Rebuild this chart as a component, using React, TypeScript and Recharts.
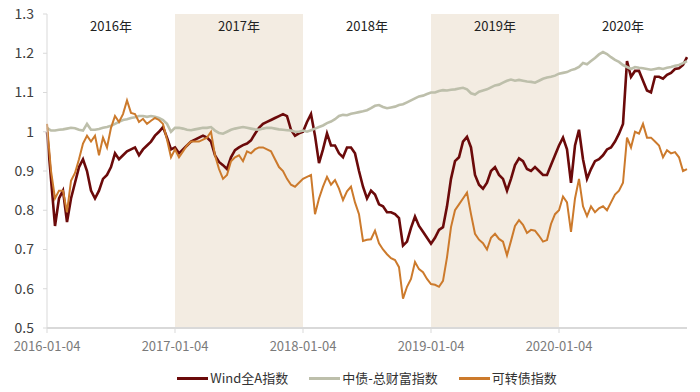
import React from "react";
import {
  Line,
  LineChart,
  ReferenceArea,
  XAxis,
  YAxis,
} from "recharts";

// one sample every ~11 days, 32 per year, 2016-01-04 .. 2020-12-31
const POINTS_PER_YEAR = 32;

const TICK_LABELS = ["2016-01-04", "2017-01-04", "2018-01-04", "2019-01-04", "2020-01-04"];
const YEAR_LABELS = ["2016年", "2017年", "2018年", "2019年", "2020年"];
const SHADED_YEARS = [1, 3];
const Y_TICKS = [0.5, 0.6, 0.7, 0.8, 0.9, 1.0, 1.1, 1.2, 1.3];

const WIND_A = [
  1.0, 0.88, 0.76, 0.83, 0.85, 0.77, 0.83, 0.87, 0.91, 0.93, 0.9, 0.85, 0.83, 0.85, 0.88, 0.89,
  0.91, 0.945, 0.93, 0.94, 0.95, 0.955, 0.96, 0.94, 0.955, 0.965, 0.975, 0.99, 1.0, 1.012, 0.985, 0.955,
  0.96, 0.945, 0.955, 0.965, 0.975, 0.98, 0.985, 0.99, 0.985, 0.975, 0.94, 0.923, 0.915, 0.905, 0.935, 0.953,
  0.96, 0.966, 0.97, 0.978, 0.995, 1.01, 1.02, 1.025, 1.03, 1.035, 1.04, 1.045, 1.04, 1.005, 0.99, 0.996,
  1.0, 1.025, 1.045, 0.99, 0.92, 0.955, 0.996, 0.965, 0.965, 0.945, 0.935, 0.96, 0.96, 0.945, 0.9, 0.86,
  0.83, 0.85, 0.84, 0.815, 0.81, 0.795, 0.795, 0.79, 0.78, 0.71, 0.72, 0.755, 0.784, 0.76, 0.745, 0.73,
  0.715, 0.73, 0.75, 0.757, 0.81, 0.88, 0.925, 0.935, 0.975, 0.987, 0.96, 0.89, 0.865, 0.855, 0.87, 0.9,
  0.91, 0.89, 0.88, 0.85, 0.88, 0.915, 0.932, 0.925, 0.905, 0.9, 0.91, 0.9, 0.89, 0.89, 0.915, 0.94,
  0.965, 0.985, 0.955, 0.87, 0.965, 1.005, 0.93, 0.88, 0.905, 0.925, 0.93, 0.94, 0.955, 0.96, 0.975, 0.995,
  1.02, 1.18, 1.14, 1.155, 1.155, 1.13, 1.105, 1.1, 1.14, 1.14, 1.135, 1.145, 1.15, 1.16, 1.162, 1.17,
  1.19,
];

const CHINA_BOND = [
  1.01, 1.003, 1.003, 1.005, 1.006, 1.008, 1.01, 1.009, 1.005, 1.003, 1.02, 1.005, 1.005, 1.007, 1.01, 1.012,
  1.015, 1.02, 1.025, 1.03, 1.032, 1.035, 1.037, 1.04, 1.04, 1.038, 1.04, 1.038, 1.035, 1.03, 1.02, 1.0,
  1.01, 1.01, 1.008, 1.005, 1.004, 1.006, 1.008, 1.01, 1.01, 1.012, 1.003, 0.997, 0.995, 1.0, 1.005, 1.008,
  1.01, 1.012, 1.01, 1.008, 1.006, 1.005, 1.008, 1.01, 1.01, 1.008, 1.006, 1.005, 1.004, 1.003, 1.0, 1.0,
  1.003, 1.0, 1.004, 1.008, 1.012, 1.016, 1.022, 1.026, 1.032, 1.04, 1.043, 1.042, 1.046, 1.048, 1.05, 1.052,
  1.055, 1.06, 1.066, 1.068, 1.063, 1.06, 1.062, 1.064, 1.068, 1.07, 1.075, 1.08, 1.085, 1.09, 1.092, 1.096,
  1.1, 1.1, 1.104, 1.106, 1.105, 1.107, 1.108, 1.11, 1.112, 1.108, 1.098, 1.095, 1.102, 1.105, 1.108, 1.113,
  1.118, 1.12, 1.125, 1.13, 1.133, 1.13, 1.132, 1.13, 1.128, 1.127, 1.125, 1.13, 1.135, 1.138, 1.14, 1.143,
  1.148, 1.15, 1.152, 1.157, 1.16, 1.165, 1.175, 1.172, 1.18, 1.188, 1.197, 1.203, 1.198, 1.19, 1.183, 1.178,
  1.17, 1.165, 1.16, 1.165, 1.163, 1.162, 1.16, 1.158, 1.16, 1.162, 1.16, 1.163, 1.165, 1.168, 1.17, 1.175,
  1.18,
];

const CONVERTIBLE = [
  1.02, 0.9, 0.83, 0.85, 0.85, 0.795, 0.875, 0.895, 0.93, 0.97, 0.99, 0.975, 0.99, 0.94, 0.985, 0.96,
  1.01, 1.04, 1.025, 1.045, 1.08, 1.048, 1.045, 1.025, 1.033, 1.02, 1.028, 1.035, 1.03, 1.02, 0.98, 0.935,
  0.955, 0.935, 0.95, 0.965, 0.975, 0.975, 0.975, 0.98, 0.985, 1.0, 0.94, 0.905, 0.88, 0.89, 0.925, 0.935,
  0.94, 0.925, 0.95, 0.945, 0.955, 0.96, 0.96, 0.955, 0.95, 0.93, 0.91, 0.9, 0.88, 0.865, 0.86, 0.87,
  0.88, 0.885, 0.89, 0.79, 0.83, 0.86, 0.885, 0.865, 0.877, 0.855, 0.826, 0.848, 0.86, 0.82, 0.79, 0.722,
  0.725, 0.726, 0.748, 0.716, 0.7, 0.688, 0.678, 0.673, 0.655, 0.575, 0.605, 0.625, 0.668, 0.65, 0.642, 0.625,
  0.612, 0.61, 0.605, 0.62, 0.68, 0.757, 0.8, 0.815, 0.83, 0.845, 0.79, 0.74, 0.725, 0.716, 0.7, 0.73,
  0.74, 0.727, 0.72, 0.685, 0.722, 0.76, 0.775, 0.763, 0.742, 0.75, 0.748, 0.735, 0.72, 0.724, 0.765, 0.79,
  0.8, 0.835, 0.82, 0.745, 0.83, 0.88, 0.81, 0.785, 0.81, 0.795, 0.805, 0.81, 0.8, 0.82, 0.84, 0.85,
  0.87, 0.985, 0.96, 1.0, 0.995, 1.02, 0.985, 0.985, 0.975, 0.965, 0.935, 0.953, 0.945, 0.948, 0.935, 0.9,
  0.905,
];

const SERIES = [
  { key: "wind", name: "Wind全A指数", values: WIND_A, color: "#6b0a0a", width: 2.6 },
  { key: "bond", name: "中债-总财富指数", values: CHINA_BOND, color: "#bdbfab", width: 2.6 },
  { key: "cb", name: "可转债指数", values: CONVERTIBLE, color: "#cc7a2c", width: 2 },
];

const data = WIND_A.map((_, i) => ({
  i,
  wind: WIND_A[i],
  bond: CHINA_BOND[i],
  cb: CONVERTIBLE[i],
}));

const FONT = '"Noto Sans CJK SC", "Noto Sans", sans-serif';

export default function App() {
  const lastIndex = data.length - 1;
  return (
    <div style={{ position: "absolute", left: 0, top: 0, width: 700, height: 392, fontFamily: FONT, background: "#fff" }}>
      <LineChart width={700} height={392} data={data} margin={{ top: 14, right: 13, bottom: 34, left: 0 }}>
        {YEAR_LABELS.map((label, y) => (
          <ReferenceArea
            key={label}
            x1={y * POINTS_PER_YEAR}
            x2={Math.min((y + 1) * POINTS_PER_YEAR, lastIndex)}
            y1={0.5}
            y2={1.3}
            fill={SHADED_YEARS.includes(y) ? "#f3ece2" : "none"}
            fillOpacity={1}
            stroke="none"
            label={{ value: label, position: "insideTop", offset: 8, fill: "#222", fontSize: 13 }}
          />
        ))}
        <XAxis
          dataKey="i"
          type="number"
          domain={[0, lastIndex]}
          ticks={TICK_LABELS.map((_, k) => k * POINTS_PER_YEAR)}
          tickFormatter={(v) => TICK_LABELS[Math.round(v / POINTS_PER_YEAR)] ?? ""}
          axisLine={{ stroke: "#d9d9d9", strokeWidth: 2 }}
          tickLine={{ stroke: "#d9d9d9" }}
          tickSize={5}
          tickMargin={9}
          tick={{ fill: "#7a7a7a", fontSize: 13 }}
          height={30}
        />
        <YAxis
          type="number"
          domain={[0.5, 1.3]}
          ticks={Y_TICKS}
          tickFormatter={(v) => String(Number(v.toFixed(1)))}
          axisLine={{ stroke: "#d9d9d9" }}
          tickLine={{ stroke: "#d9d9d9" }}
          tickSize={4}
          tickMargin={9}
          tick={{ fill: "#404040", fontSize: 14 }}
          width={47}
        />
        {SERIES.map((s) => (
          <Line
            key={s.key}
            dataKey={s.key}
            name={s.name}
            type="linear"
            stroke={s.color}
            strokeWidth={s.width}
            dot={false}
            isAnimationActive={false}
          />
        ))}
      </LineChart>
      <div
        style={{
          position: "absolute",
          left: 47,
          width: 640,
          top: 369,
          display: "flex",
          justifyContent: "center",
          gap: 21,
          fontSize: 13,
          color: "#333",
          lineHeight: "18px",
        }}
      >
        {SERIES.map((s) => (
          <div key={s.key} style={{ display: "flex", alignItems: "center" }}>
            <span style={{ display: "inline-block", width: 31, height: 3, background: s.color, marginRight: 2 }} />
            <span>{s.name}</span>
          </div>
        ))}
      </div>
    </div>
  );
}
